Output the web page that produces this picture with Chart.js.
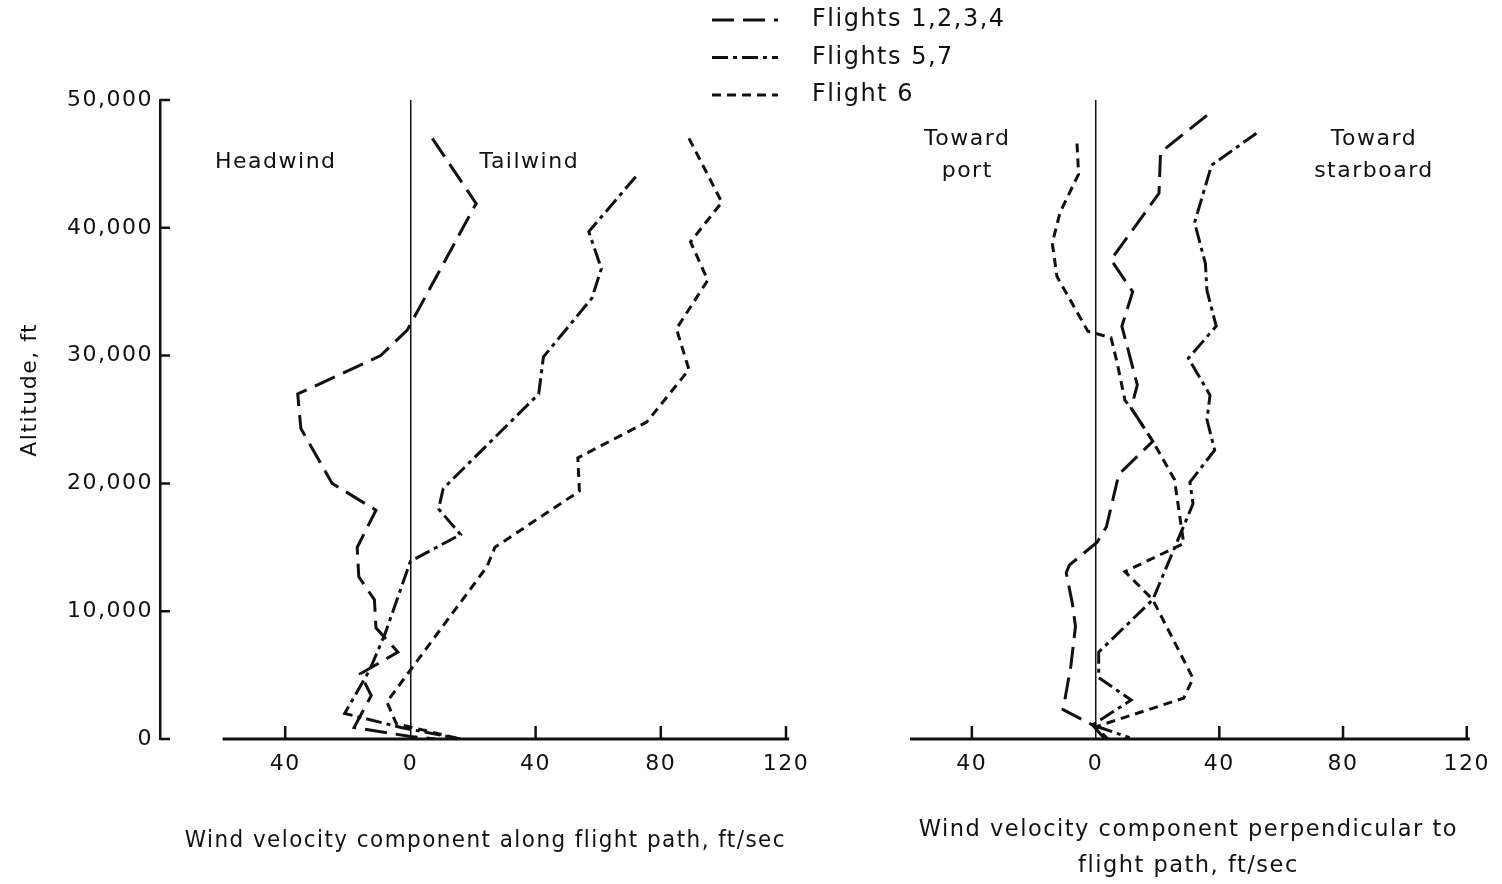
<!DOCTYPE html>
<html>
<head>
<meta charset="utf-8">
<script src="https://cdn.jsdelivr.net/npm/chart.js@4.4.1/dist/chart.umd.min.js"></script>
<style>
  body { margin: 0; background: #fff; }
  #wrap { position: relative; width: 1502px; height: 884px; }
  #wrap canvas { position: absolute; left: 0; top: 0; }
</style>
</head>
<body>
<div id="wrap">
  <canvas id="alongChart" width="1502" height="884"></canvas>
  <canvas id="perpChart" width="1502" height="884"></canvas>
</div>
<script>
/* ---- values: [wind ft/sec, altitude ft] ---- */
const altTicks = [0, 10000, 20000, 30000, 40000, 50000];
const speedTicks = [-40, 0, 40, 80, 120];
const seriesLabels = ["Flights 1,2,3,4", "Flights 5,7", "Flight 6"];

// along flight path
const along_f1234 = [[7,47000],[21,41900],[-1,32000],[-9.5,30000],[-36,27000],[-35,24300],[-25,20000],[-11,17900],[-17,15000],[-16.5,12700],[-11.5,10900],[-11,8700],[-4,6800],[-16,5100],[-12.5,3400],[-18,900],[0,200],[8,0]];
const along_f57 = [[72,44000],[57,39700],[61,36800],[58,34500],[42.5,29900],[41,27000],[10.5,19600],[9,18000],[16,16000],[0,13900],[-8,8300],[-13,5400],[-21,2000],[-3,900],[16,0]];
const along_f6 = [[89,47000],[99.5,42000],[89.5,38900],[95,35900],[85,32100],[89,28900],[75.5,24800],[53.5,22000],[54,19400],[27,15000],[24.5,13500],[0,5400],[-7.5,2900],[-4.5,1200],[16,0]];

// perpendicular to flight path
const perp_f1234 = [[36,48800],[21,45900],[20.5,42700],[5,37500],[12,35000],[8.5,32300],[13.5,27700],[11.5,25900],[18.5,23300],[7.5,20700],[3.5,16600],[0.5,15400],[-8.5,13600],[-9.5,13000],[-7.5,10600],[-6.5,8800],[-8,5700],[-10.5,2300],[-1,1100],[3,0]];
const perp_f57 = [[52,47400],[37.5,44900],[32,40400],[35.5,37200],[36,35100],[39,32300],[30,29800],[37,26900],[36,25000],[38.5,22600],[30.5,20100],[31.5,18400],[18.5,10900],[1,6800],[1,4800],[11.5,3050],[-1,1100],[11,100]];
const perp_f6 = [[-6,46600],[-5.5,44200],[-11.5,41200],[-14,38800],[-12.5,36200],[-2.5,31900],[5,31400],[7,29400],[9.5,26500],[11.5,25900],[18.5,23300],[25.5,20300],[28.5,15300],[9.5,13100],[18.5,10900],[31.5,4750],[28.5,3200],[0,950],[4,0]];

const fontFam = "'DejaVu Sans', sans-serif";
const ink = "#111";

function pts(arr) {
	return arr.map(p => ({ x: p[0], y: p[1] }));
}

function makeSets(a, b, c) {
	const dashes = [[22, 9], [16, 5, 4, 5], [9, 6]];
	return [a, b, c].map((d, i) => ({
		label: seriesLabels[i],
		data: pts(d),
		showLine: true,
		pointRadius: 0,
		borderColor: ink,
		borderWidth: 3,
		borderDash: dashes[i],
		fill: false,
	}));
}

// wider letter spacing like the lettering of the original
const spacing = {
	id: "spacing",
	beforeUpdate(chart) { chart.ctx.letterSpacing = "1.5px"; },
	beforeDraw(chart) { chart.ctx.letterSpacing = "1.5px"; },
};

// baseline + inward tick marks
const axisMarks = {
	id: "axisMarks",
	afterDraw(chart, args, opts) {
		const ctx = chart.ctx, xs = chart.scales.x, ys = chart.scales.y;
		const y0 = ys.getPixelForValue(0);
		ctx.save();
		ctx.strokeStyle = ink;
		ctx.lineWidth = 3;
		ctx.beginPath();
		ctx.moveTo(xs.getPixelForValue(opts.from), y0);
		ctx.lineTo(xs.getPixelForValue(opts.to), y0);
		ctx.stroke();
		ctx.lineWidth = 2.5;
		ctx.beginPath();
		speedTicks.forEach(v => {
			if (v === 0) return;
			const px = xs.getPixelForValue(v);
			ctx.moveTo(px, y0);
			ctx.lineTo(px, y0 - 13);
		});
		if (opts.yTicks) {
			const left = chart.chartArea.left;
			altTicks.forEach(v => {
				const py = ys.getPixelForValue(v);
				ctx.moveTo(left, py);
				ctx.lineTo(left + 10, py);
			});
		}
		ctx.stroke();
		ctx.restore();
	},
};

// Headwind / Tailwind etc.
const notes = {
	id: "notes",
	afterDraw(chart, args, opts) {
		const ctx = chart.ctx, xs = chart.scales.x, ys = chart.scales.y;
		ctx.save();
		ctx.font = "22px " + fontFam;
		ctx.fillStyle = ink;
		ctx.textAlign = "center";
		ctx.textBaseline = "middle";
		(opts.items || []).forEach(n => {
			n.lines.forEach((t, i) => {
				ctx.fillText(t, xs.getPixelForValue(n.x), ys.getPixelForValue(n.y) + i * 32);
			});
		});
		ctx.restore();
	},
};

// legend with line samples, drawn at the top of the figure
const lineLegend = {
	id: "lineLegend",
	afterDraw(chart, args, opts) {
		if (!opts.show) return;
		const ctx = chart.ctx;
		ctx.save();
		ctx.font = "24px " + fontFam;
		ctx.textBaseline = "middle";
		ctx.fillStyle = ink;
		ctx.strokeStyle = ink;
		ctx.lineWidth = 3;
		chart.data.datasets.forEach((ds, i) => {
			const y = opts.top + i * opts.rowGap;
			ctx.setLineDash(ds.borderDash);
			ctx.beginPath();
			ctx.moveTo(opts.left, y);
			ctx.lineTo(opts.left + 66, y);
			ctx.stroke();
			ctx.fillText(ds.label, opts.left + 100, y);
		});
		ctx.restore();
	},
};

function xScale(min, title, lineHeight, padBottom) {
	return {
		type: "linear",
		min: min,
		max: 120,
		afterBuildTicks: s => { s.ticks = speedTicks.map(v => ({ value: v })); },
		afterFit: s => { s.height = 145; },
		border: { display: false },
		grid: {
			drawTicks: false,
			lineWidth: 1.5,
			color: c => (c.tick && c.tick.value === 0 ? ink : "rgba(0,0,0,0)"),
		},
		ticks: {
			padding: 12,
			color: ink,
			font: { family: fontFam, size: 22 },
			callback: v => Math.abs(v),
		},
		title: {
			display: true,
			text: title,
			color: ink,
			font: { family: fontFam, size: 22.5, lineHeight: lineHeight },
			padding: { top: 0, bottom: padBottom },
		},
	};
}

const common = {
	responsive: false,
	animation: false,
	events: [],
	plugins: { legend: { display: false }, tooltip: { enabled: false } },
};

new Chart(document.getElementById("alongChart").getContext("2d"), {
	type: "scatter",
	data: { datasets: makeSets(along_f1234, along_f57, along_f6) },
	plugins: [spacing, axisMarks, notes, lineLegend],
	options: {
		...common,
		layout: { padding: { left: 0, right: 716, top: 100, bottom: 0 } },
		plugins: {
			...common.plugins,
			axisMarks: { from: -60, to: 121, yTicks: true },
			notes: { items: [
				{ x: -43, y: 45100, lines: ["Headwind"] },
				{ x: 38, y: 45100, lines: ["Tailwind"] },
			] },
			lineLegend: { show: false },
		},
		scales: {
			x: xScale(-80, "   Wind velocity component along flight path, ft/sec", 1.2, 29),
			y: {
				type: "linear",
				min: 0,
				max: 50000,
				afterBuildTicks: s => { s.ticks = altTicks.map(v => ({ value: v })); },
				afterFit: s => { s.width = 160; },
				border: { display: true, color: ink, width: 2.5 },
				grid: { drawOnChartArea: false, drawTicks: false },
				ticks: {
					padding: 7,
					color: ink,
					font: { family: fontFam, size: 22 },
					callback: v => v.toLocaleString("en-US"),
				},
				title: {
					display: true,
					text: "       Altitude, ft",
					color: ink,
					font: { family: fontFam, size: 22 },
					padding: { top: 17, bottom: 0 },
				},
			},
		},
	},
});

new Chart(document.getElementById("perpChart").getContext("2d"), {
	type: "scatter",
	data: { datasets: makeSets(perp_f1234, perp_f57, perp_f6) },
	plugins: [spacing, axisMarks, notes, lineLegend],
	options: {
		...common,
		layout: { padding: { left: 910, right: 27, top: 100, bottom: 0 } },
		plugins: {
			...common.plugins,
			axisMarks: { from: -60, to: 121, yTicks: false },
			notes: { items: [
				{ x: -41.5, y: 46900, lines: ["Toward", "port"] },
				{ x: 90, y: 46950, lines: ["Toward", "starboard"] },
			] },
			lineLegend: { show: true, left: 712, top: 20, rowGap: 37.5 },
		},
		scales: {
			x: xScale(-60, ["Wind velocity component perpendicular to", "flight path, ft/sec"], 36 / 22.5, 0),
			y: { type: "linear", min: 0, max: 50000, display: false },
		},
	},
});
</script>
</body>
</html>
